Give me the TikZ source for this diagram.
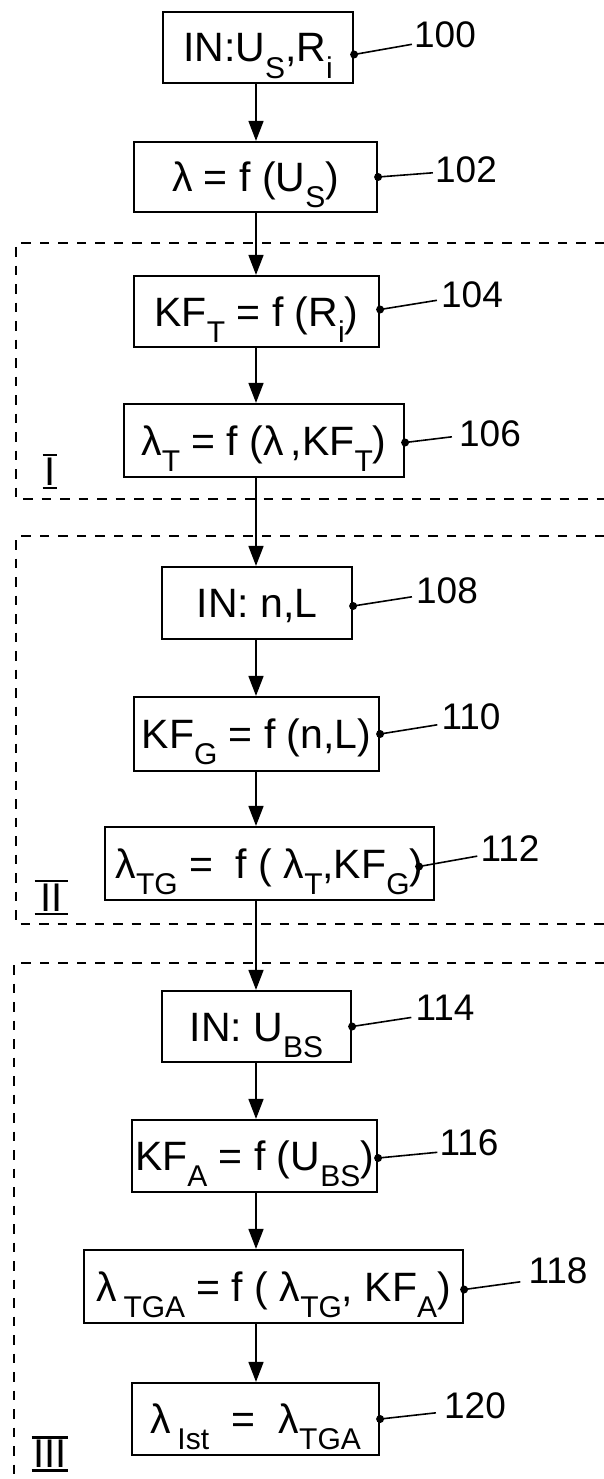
\documentclass[tikz,border=0pt]{standalone}
\usepackage{fontspec}
\setmainfont{Liberation Sans}
\usetikzlibrary{arrows.meta}
\newcommand\sbs[1]{\raisebox{-0.4em}{\fontsize{30}{32}\selectfont #1}}
\begin{document}
\begin{tikzpicture}[x=1pt,y=-1pt,
  box/.style={draw,line width=2.2pt,inner sep=0pt,font=\fontsize{41}{44}\selectfont,text height=29pt,text depth=0pt},
  num/.style={inner sep=0pt,font=\fontsize{37}{40}\selectfont},
  roman/.style={inner sep=0pt,font=\fontsize{40}{44}\selectfont},
  bar/.style={line width=2.8pt},
  flow/.style={line width=1.6pt,-{Triangle[length=20pt,width=15pt]}},
  leader/.style={line width=1.6pt},
  region/.style={line width=1.8pt,dash pattern=on 9.5pt off 9pt},
  dot/.style={fill=black}
]
\useasboundingbox (0,0) rectangle (604,1479);
\coordinate (axis) at (256,0);

% region frames
\draw[region] (604,243) -- (16,243) -- (16,499) -- (604,499);
\draw[region] (604,536) -- (16,536) -- (16,924) -- (604,924);
\draw[region] (604,963) -- (14,963) -- (14,1479);

% boxes
\node[box,minimum width=190pt,minimum height=71pt] (n100) at (258,47.5) {IN:U\sbs{S},R\sbs{i}};
\node[box,minimum width=243pt,minimum height=70pt] (n102) at (255.5,177) {λ = f (U\sbs{S})};
\node[box,minimum width=245pt,minimum height=71pt] (n104) at (256.5,311.5) {KF\sbs{T} = f (R\sbs{i})};
\node[box,minimum width=280pt,minimum height=73pt] (n106) at (264,440.5) {λ\sbs{T} = f (λ\,,KF\sbs{T})};
\node[box,minimum width=190pt,minimum height=72pt] (n108) at (257,603) {IN: n,L};
\node[box,minimum width=245pt,minimum height=74pt] (n110) at (256.5,734) {KF\sbs{G} = f (n,L)};
\node[box,minimum width=329pt,minimum height=73pt] (n112) at (269.5,863.5) {λ\sbs{TG} =\ \ f ( λ\sbs{T},KF\sbs{G})};
\node[box,minimum width=189pt,minimum height=71pt] (n114) at (256.5,1026.5) {IN: U\sbs{BS}};
\node[box,minimum width=245pt,minimum height=72pt] (n116) at (254.5,1156) {KF\sbs{A} = f (U\sbs{BS})};
\node[box,minimum width=379pt,minimum height=73pt] (n118) at (273.5,1286.5) {λ\,\sbs{TGA} = f ( λ\sbs{TG}, KF\sbs{A})};
\node[box,minimum width=247pt,minimum height=72pt] (n120) at (255.5,1419) {λ\,\sbs{Ist}\ \ =\ \ λ\sbs{TGA}};

% flow arrows
\draw[flow] (n100.south -| axis) -- (n102.north -| axis);
\draw[flow] (n102.south -| axis) -- (n104.north -| axis);
\draw[flow] (n104.south -| axis) -- (n106.north -| axis);
\draw[flow] (n106.south -| axis) -- (n108.north -| axis);
\draw[flow] (n108.south -| axis) -- (n110.north -| axis);
\draw[flow] (n110.south -| axis) -- (n112.north -| axis);
\draw[flow] (n112.south -| axis) -- (n114.north -| axis);
\draw[flow] (n114.south -| axis) -- (n116.north -| axis);
\draw[flow] (n116.south -| axis) -- (n118.north -| axis);
\draw[flow] (n118.south -| axis) -- (n120.north -| axis);

% reference numbers
\node[num] (l100) at (445,35) {100};
\node[num] (l102) at (466,169.5) {102};
\node[num] (l104) at (472,295) {104};
\node[num] (l106) at (490,433.5) {106};
\node[num] (l108) at (447,590.5) {108};
\node[num] (l110) at (471,716.5) {110};
\node[num] (l112) at (510,849) {112};
\node[num] (l114) at (445,1007.5) {114};
\node[num] (l116) at (469,1143) {116};
\node[num] (l118) at (558,1270.5) {118};
\node[num] (l120) at (475,1405.5) {120};

% leader dots
\coordinate (d100) at ([yshift=-7pt]n100.east);
\coordinate (d102) at (n102.east);
\coordinate (d104) at ([yshift=2pt]n104.east);
\coordinate (d106) at ([yshift=-2pt]n106.east);
\coordinate (d108) at ([yshift=-3pt]n108.east);
\coordinate (d110) at (n110.east);
\coordinate (d112) at ([xshift=-16pt,yshift=-3pt]n112.east);
\coordinate (d114) at (n114.east);
\coordinate (d116) at ([yshift=-2pt]n116.east);
\coordinate (d118) at ([yshift=-3pt]n118.east);
\coordinate (d120) at (n120.east);

\foreach \k in {100,102,104,106,108,110,112,114,116,118,120}{
  \fill[dot] (d\k) circle[radius=4pt];
}
\draw[leader] (d100) -- ([xshift=-2pt,yshift=4pt]l100.south west);
\draw[leader] (d102) -- ([xshift=-2pt,yshift=10pt]l102.south west);
\draw[leader] (d104) -- ([xshift=-4pt,yshift=8pt]l104.south west);
\draw[leader] (d106) -- ([xshift=-7pt,yshift=10pt]l106.south west);
\draw[leader] (d108) -- ([xshift=-4pt,yshift=7pt]l108.south west);
\draw[leader] (d110) -- ([xshift=-4pt,yshift=5pt]l110.south west);
\draw[leader] (d112) -- ([xshift=-3pt,yshift=6pt]l112.south west);
\draw[leader] (d114) -- ([xshift=-4pt,yshift=3pt]l114.south west);
\draw[leader] (d116) -- ([xshift=-2pt,yshift=4pt]l116.south west);
\draw[leader] (d118) -- ([xshift=-8pt,yshift=2pt]l118.south west);
\draw[leader] (d120) -- ([xshift=-8pt,yshift=6pt]l120.south west);

% region labels
\node[roman] (rI) at (50,471.5) {I};
\draw[bar] ([xshift=-1.5pt,yshift=2.5pt]rI.north west) -- ([xshift=1.5pt,yshift=2.5pt]rI.north east);
\draw[bar] ([xshift=-1.5pt,yshift=-2.5pt]rI.south west) -- ([xshift=1.5pt,yshift=-2.5pt]rI.south east);
\node[roman] (rII) at (51.5,897.5) {II};
\draw[bar] ([xshift=-5.5pt,yshift=2.5pt]rII.north west) -- ([xshift=5.5pt,yshift=2.5pt]rII.north east);
\draw[bar] ([xshift=-5.5pt,yshift=-2.5pt]rII.south west) -- ([xshift=5.5pt,yshift=-2.5pt]rII.south east);
\node[roman] (rIII) at (50,1454) {III};
\draw[bar] ([xshift=-1.5pt,yshift=2.5pt]rIII.north west) -- ([xshift=1.5pt,yshift=2.5pt]rIII.north east);
\draw[bar] ([xshift=-1.5pt,yshift=-2.5pt]rIII.south west) -- ([xshift=1.5pt,yshift=-2.5pt]rIII.south east);
\end{tikzpicture}
\end{document}
